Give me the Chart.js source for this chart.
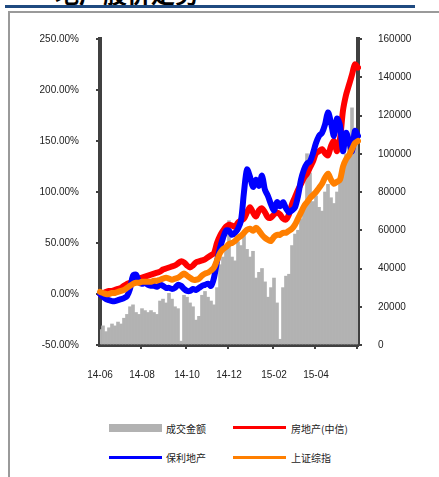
<!DOCTYPE html>
<html>
<head>
<meta charset="utf-8">
<script src="https://cdn.jsdelivr.net/npm/chart.js@4"></script>
<style>
  body { margin: 0; background: #fff; width: 439px; height: 477px; overflow: hidden; position: relative; font-family: "Liberation Sans", Arial, sans-serif; }
  #title { position: absolute; left: 55px; top: -19px; font: bold 24px "Noto Sans CJK SC"; color: #000; height: 24px; line-height: 24px; }
  #titleClip { position: absolute; left: 0; top: 0; width: 439px; height: 5px; overflow: hidden; }
  #blueBar { position: absolute; left: 5px; top: 5px; width: 410px; height: 3px; background: #1f4a80; }
  #frameTop { position: absolute; left: 8px; top: 11px; width: 431px; height: 2px; background: #9a9a9a; }
  #frameLeft { position: absolute; left: 8px; top: 11px; width: 2px; height: 466px; background: #9a9a9a; }
  canvas { position: absolute; left: 0; top: 0; }
  .leg { position: absolute; font: 10px "Noto Sans CJK SC"; color: #222; line-height: 12px; }
  .sw { position: absolute; }
</style>
</head>
<body>
<div id="titleClip"><div id="title">地产股价走势</div></div>
<div id="blueBar"></div>
<div id="frameTop"></div>
<div id="frameLeft"></div>
<canvas id="chart" width="439" height="400"></canvas>

<div class="sw" style="left:109px;top:424px;width:53px;height:8px;background:#b2b2b2"></div>
<div class="leg" style="left:166px;top:423px">成交金额</div>
<div class="sw" style="left:233px;top:426px;width:53px;height:3px;background:#ff0000"></div>
<div class="leg" style="left:291px;top:423px">房地产(中信)</div>
<div class="sw" style="left:109px;top:456px;width:53px;height:3px;background:#0000ff"></div>
<div class="leg" style="left:166px;top:452px">保利地产</div>
<div class="sw" style="left:233px;top:456px;width:53px;height:3px;background:#ff7f00"></div>
<div class="leg" style="left:291px;top:452px">上证综指</div>

<script>
// x axis: one point every few trading days, 2014-06 .. 2015-06
const monthTicks = ['14-06', '14-08', '14-10', '14-12', '15-02', '15-04'];
const monthTickIdx = [0, 14, 29, 43, 58, 72];

// cumulative return, %
const realEstate = [0, 1, 2, 3, 3, 4, 5, 6, 8, 10, 11, 12, 14, 15, 16, 17, 18, 19, 20, 21,
  22, 24, 25, 26, 27, 28, 30, 32, 31, 28, 26, 28, 31, 32, 33, 34, 36, 38, 40, 50,
  57, 62, 66, 68, 67, 66, 70, 72, 74, 80, 85, 80, 76, 82, 84, 80, 75, 75, 78, 80,
  78, 74, 73, 78, 88, 95, 102, 108, 114, 118, 124, 130, 138, 140, 142, 138, 136, 145, 150, 140,
  152, 180, 195, 205, 215, 225, 222];
const poly = [0, -3, -5, -6, -7, -7, -6, -5, -4, -2, 5, 18, 19, 12, 10, 11, 9, 8, 8, 7,
  9, 8, 6, 6, 5, 6, 9, 8, 5, 3, 3, 5, 4, 6, 8, 9, 10, 8, 16, 32,
  45, 55, 62, 62, 58, 60, 64, 72, 100, 122, 115, 105, 112, 106, 116, 102, 96, 88, 82, 90,
  86, 90, 84, 80, 82, 85, 96, 112, 122, 128, 130, 138, 148, 155, 158, 166, 178, 168, 155, 172,
  165, 140, 158, 150, 140, 160, 155];
const shanghai = [2, 1, 0, 0, 1, 1, 2, 3, 4, 6, 8, 10, 11, 11, 12, 12, 12, 12, 13, 13,
  14, 15, 16, 15, 14, 15, 16, 18, 20, 18, 16, 14, 14, 15, 18, 20, 21, 23, 26, 33,
  40, 44, 46, 49, 50, 52, 55, 57, 60, 63, 64, 62, 65, 62, 58, 55, 53, 52, 56, 58,
  58, 60, 60, 62, 64, 68, 74, 80, 86, 90, 94, 97, 100, 104, 108, 114, 118, 112, 108, 110,
  112, 125, 132, 136, 142, 148, 150];
// turnover, right axis
const turnover = [8000, 10000, 7000, 9000, 11000, 10000, 12000, 11000, 14000, 16000, 20000, 21000, 17000, 16000, 19000, 18000, 17000, 18000, 17000, 16000,
  23000, 24000, 22000, 27000, 24000, 20000, 19000, 2000, 26000, 25000, 22000, 20000, 13000, 15000, 26000, 28000, 25000, 23000, 21000, 30000,
  42000, 46000, 52000, 65000, 46000, 44000, 54000, 52000, 58000, 50000, 46000, 49000, 35000, 38000, 40000, 33000, 25000, 30000, 35000, 22000,
  3000, 30000, 36000, 37000, 52000, 58000, 60000, 66000, 72000, 100000, 90000, 75000, 78000, 72000, 70000, 80000, 84000, 77000, 74000, 80000,
  88000, 93000, 100000, 108000, 124000, 110000, 105000];

const labels = realEstate.map((v, i) => {
    const k = monthTickIdx.indexOf(i);
    return k >= 0 ? monthTicks[k] : '';
});

const axisColor = '#404040';
const tickFont = { family: 'Liberation Sans', size: 10 };

const lineDs = (label, data, color, order) => ({
    type: 'line',
    label: label,
    data: data,
    borderColor: color,
    borderWidth: 6,
    pointRadius: 0,
    tension: 0.3,
    borderJoinStyle: 'round',
    borderCapStyle: 'round',
    fill: false,
    yAxisID: 'y',
    order: order
});

new Chart(document.getElementById('chart').getContext('2d'), {
    data: {
        labels: labels,
        datasets: [
            lineDs('上证综指', shanghai, '#ff7f00', 0),
            lineDs('保利地产', poly, '#0000ff', 1),
            lineDs('房地产(中信)', realEstate, '#ff0000', 2),
            {
                type: 'bar',
                label: '成交金额',
                data: turnover,
                backgroundColor: '#b2b2b2',
                barPercentage: 1,
                categoryPercentage: 1,
                yAxisID: 'y1',
                order: 3
            }
        ]
    },
    options: {
        responsive: false,
        animation: false,
        devicePixelRatio: 1,
        layout: { padding: { top: 39, left: 0, right: 0, bottom: 0 } },
        plugins: { legend: { display: false }, tooltip: { enabled: false } },
        scales: {
            x: {
                offset: false,
                border: { display: true, width: 4, color: axisColor },
                grid: {
                    drawOnChartArea: false,
                    tickLength: 4,
                    lineWidth: 2,
                    color: ctx => monthTickIdx.includes(ctx.index) || ctx.index === labels.length - 1 ? axisColor : 'rgba(0,0,0,0)'
                },
                ticks: { autoSkip: false, maxRotation: 0, padding: 20, color: '#222', font: tickFont },
                afterFit: s => { s.height = 55; }
            },
            y: {
                position: 'left',
                min: -50, max: 250,
                border: { display: true, width: 4, color: axisColor },
                grid: { drawOnChartArea: false, tickLength: 4, lineWidth: 2, color: axisColor },
                ticks: { stepSize: 50, padding: 17, color: '#222', font: tickFont, callback: v => v.toFixed(2) + '%' },
                afterFit: s => { s.width = 100; }
            },
            y1: {
                position: 'right',
                min: 0, max: 160000,
                border: { display: true, width: 4, color: axisColor },
                grid: { drawOnChartArea: false, tickLength: 4, lineWidth: 2, color: axisColor },
                ticks: { stepSize: 20000, padding: 16, color: '#222', font: tickFont, callback: v => String(v) },
                afterFit: s => { s.width = 81; }
            }
        }
    }
});
</script>
</body>
</html>
